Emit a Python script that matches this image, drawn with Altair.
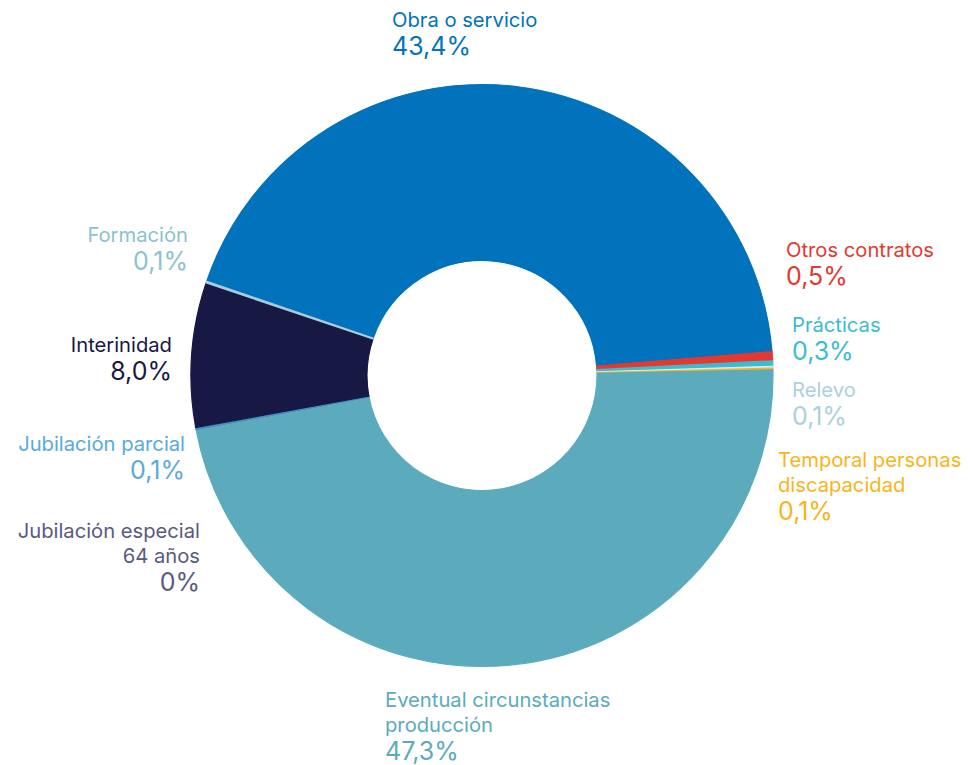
import math
import altair as alt
import pandas as pd

# --- data ---
categories = ["Obra o servicio", "Otros contratos", "Prácticas", "Relevo",
              "Temporal personas discapacidad", "Eventual circunstancias producción",
              "Jubilación especial 64 años", "Jubilación parcial", "Interinidad", "Formación"]
values = [43.4, 0.5, 0.3, 0.1, 0.1, 47.3, 0.0, 0.1, 8.0, 0.1]
value_labels = ["43,4%", "0,5%", "0,3%", "0,1%", "0,1%", "47,3%", "0%", "0,1%", "8,0%", "0,1%"]
name_lines = [["Obra o servicio"], ["Otros contratos"], ["Prácticas"], ["Relevo"],
              ["Temporal personas", "discapacidad"], ["Eventual circunstancias", "producción"],
              ["Jubilación especial", "64 años"], ["Jubilación parcial"], ["Interinidad"], ["Formación"]]

# --- styles ---
slice_colors = ["#0073BC", "#E5382F", "#3BBCD0", "#D8EBF1", "#F7B51B",
                "#5BABBD", "#5A5A80", "#3E93CC", "#181845", "#A9CDD9"]
label_colors = ["#0073BC", "#E5382F", "#3BBCD0", "#A8D2DE", "#F7B51B",
                "#5BABBD", "#5A5A80", "#5AAADA", "#181845", "#8CC2D0"]
# label anchor (x, first baseline) in chart pixels, alignment
label_pos = [(384, 19, "left"), (778, 249, "left"), (784, 324, "left"), (784, 389, "left"),
             (770, 459, "left"), (377, 699, "left"), (192, 530, "right"), (177, 443, "right"),
             (164, 344, "right"), (180, 234, "right")]
NAME_SIZE, PCT_SIZE, LINE_GAP, PCT_GAP = 20.2, 25, 25, 28
FONT = "Inter"
CX, CY = 474, 367.5

df = pd.DataFrame({"cat": categories, "value": values, "idx": range(len(categories))})

rows = []
for i, cat in enumerate(categories):
    x, y, al = label_pos[i]
    for j, line in enumerate(name_lines[i]):
        rows.append({"t": line, "x": x, "y": y + j * LINE_GAP, "al": al, "c": label_colors[i], "s": NAME_SIZE})
    rows.append({"t": value_labels[i], "x": x, "y": y + (len(name_lines[i]) - 1) * LINE_GAP + PCT_GAP,
                 "al": al, "c": label_colors[i], "s": PCT_SIZE})
lab = pd.DataFrame(rows)

start = math.radians(288.9)
color_scale = alt.Scale(domain=categories, range=slice_colors)

arc = alt.Chart(df).mark_arc(radius=291, radius2=115, strokeWidth=1.2).encode(
    theta=alt.Theta("value:Q", stack=True, scale=alt.Scale(range=[start, start + 2 * math.pi])),
    color=alt.Color("cat:N", scale=color_scale, legend=None),
    stroke=alt.Stroke("cat:N", scale=color_scale, legend=None),
    order=alt.Order("idx:Q"),
    x=alt.value(CX),
    y=alt.value(CY),
)

def text_layer(align):
    return alt.Chart(lab[lab["al"] == align]).mark_text(
        align=align, baseline="alphabetic", font=FONT
    ).encode(
        x=alt.X("x:Q", scale=None),
        y=alt.Y("y:Q", scale=None),
        text="t:N",
        color=alt.Color("c:N", scale=None),
        size=alt.Size("s:Q", scale=None),
    )

chart = alt.layer(arc, text_layer("left"), text_layer("right")).properties(
    width=955, height=757, autosize=alt.AutoSizeParams(type="none"), padding=0
).configure_view(stroke=None)

chart.save("out.html", embed_options={"renderer": "svg", "actions": False})
